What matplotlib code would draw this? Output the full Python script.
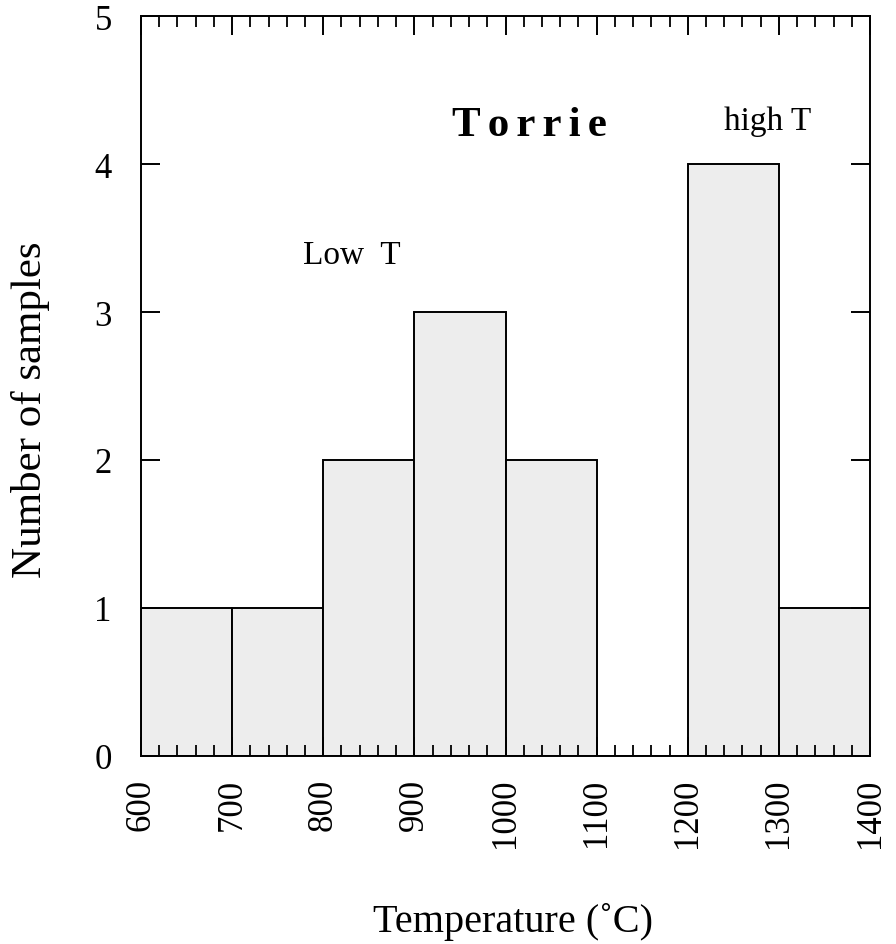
import matplotlib
matplotlib.use("Agg")
import matplotlib.pyplot as plt
from matplotlib.ticker import MultipleLocator

# Histogram of temperature estimates
bin_edges = [600, 700, 800, 900, 1000, 1100, 1200, 1300, 1400]
counts = [1, 1, 2, 3, 2, 0, 4, 1]
x_ticks = [600, 700, 800, 900, 1000, 1100, 1200, 1300, 1400]
y_ticks = [0, 1, 2, 3, 4, 5]

plt.rcParams['font.family'] = ['Liberation Serif', 'DejaVu Serif']

fig = plt.figure(figsize=(8.96, 9.45), dpi=100)
ax = fig.add_axes([141 / 896, 1 - 757 / 945, (870 - 141) / 896, (757 - 17) / 945])

lefts = bin_edges[:-1]
widths = [b - a for a, b in zip(bin_edges[:-1], bin_edges[1:])]
ax.bar(lefts, counts, width=widths, align='edge', color='#ededed',
       edgecolor='black', linewidth=1.4, zorder=1)

ax.set_xlim(600, 1400)
ax.set_ylim(0, 5)
ax.set_xticks(x_ticks)
ax.set_xticklabels([str(v) for v in x_ticks], rotation=90, fontsize=25)
ax.xaxis.set_minor_locator(MultipleLocator(20))
ax.set_yticks(y_ticks)
ax.set_yticklabels([str(v) for v in y_ticks], fontsize=25)

ax.tick_params(axis='both', which='major', direction='in', length=14, width=1.4,
               top=True, right=True, zorder=3)
ax.tick_params(axis='x', which='major', pad=15.5)
ax.tick_params(axis='y', which='major', pad=21)
ax.tick_params(axis='x', which='minor', direction='in', length=8, width=1.3,
               top=True, bottom=True)
for s in ax.spines.values():
    s.set_linewidth(1.4)
    s.set_zorder(4)

ax.set_xlabel('Temperature (˚C)', fontsize=29)
ax.xaxis.set_label_coords(0.510, -0.197)
ax.set_ylabel('Number of samples', fontsize=31)
ax.yaxis.set_label_coords(-0.125, 0.469)

ax.text(1026, 4.196, '\u2006'.join('Torrie'), fontsize=31,
        fontweight='bold', ha='center', va='baseline')
ax.text(1288, 4.236, 'high T', fontsize=24, ha='center', va='baseline')
ax.text(831, 3.33, 'Low  T', fontsize=24, ha='center', va='baseline')

fig.savefig('out.png', dpi=100)
